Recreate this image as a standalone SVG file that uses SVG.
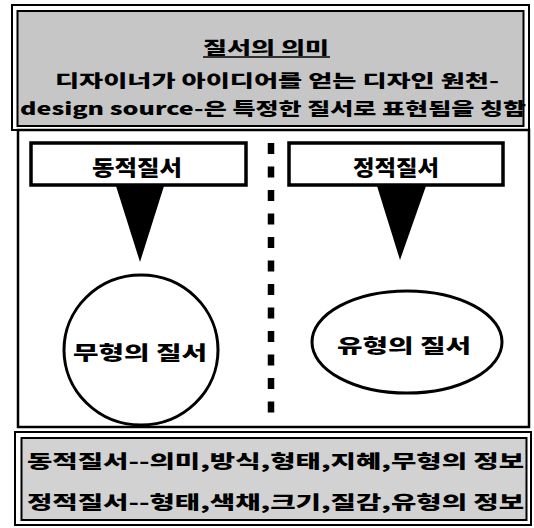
<svg xmlns="http://www.w3.org/2000/svg" width="534" height="528" viewBox="0 0 534 528">
<style>
.t{font-family:"Noto Sans CJK KR","Noto Sans",sans-serif;font-weight:900;fill:#000;}
.ln{fill:none;stroke:#000;}
</style>
<rect width="534" height="528" fill="#fff"/>
<g id="header">
<rect x="12" y="5" width="517" height="125" class="ln" stroke-width="2"/>
<rect x="17.5" y="11" width="506" height="115" fill="#c6c6c6" stroke="#000" stroke-width="2"/>
<text class="t" x="266" y="54" font-size="17" text-anchor="middle" textLength="126" lengthAdjust="spacingAndGlyphs">질서의 의미</text>
<line x1="203" y1="57" x2="330" y2="57" stroke="#000" stroke-width="1.5"/>
<text class="t" x="55" y="87" font-size="17" textLength="444" lengthAdjust="spacingAndGlyphs">디자이너가 아이디어를 얻는 디자인 원천-</text>
<text class="t" x="20" y="115" font-size="17" textLength="506" lengthAdjust="spacingAndGlyphs">design source-은 특정한 질서로 표현됨을 칭함</text>
</g>
<g id="panel">
<rect x="18" y="130" width="511" height="297" class="ln" stroke-width="2.5"/>
</g>
<g id="connectors">
<line x1="271" y1="143" x2="271" y2="415" stroke="#000" stroke-width="6.5" stroke-dasharray="11 12.5"/>
<polygon points="116,186 164,186 140,262" fill="#000"/>
<polygon points="377,186 426,186 400,260" fill="#000"/>
</g>
<g id="dynamic">
<rect x="31" y="143" width="215" height="42" fill="#fff" stroke="#000" stroke-width="3.5"/>
<text class="t" x="137" y="175" font-size="21" text-anchor="middle" textLength="90" lengthAdjust="spacingAndGlyphs">동적질서</text>
</g>
<g id="static">
<rect x="289" y="143" width="214" height="42" fill="#fff" stroke="#000" stroke-width="3.5"/>
<text class="t" x="396" y="175" font-size="21" text-anchor="middle" textLength="86" lengthAdjust="spacingAndGlyphs">정적질서</text>
</g>
<g id="formless">
<ellipse cx="141" cy="350" rx="77" ry="75" class="ln" stroke-width="3"/>
<text class="t" x="140" y="360" font-size="19" text-anchor="middle" textLength="134" lengthAdjust="spacingAndGlyphs">무형의 질서</text>
</g>
<g id="formed">
<ellipse cx="407" cy="342" rx="95" ry="51" class="ln" stroke-width="3"/>
<text class="t" x="404" y="353" font-size="19" text-anchor="middle" textLength="134" lengthAdjust="spacingAndGlyphs">유형의 질서</text>
</g>
<g id="summary">
<rect x="15" y="432" width="516" height="93" class="ln" stroke-width="2"/>
<rect x="21.5" y="438" width="505" height="82" fill="#d2d2d2" stroke="#000" stroke-width="2"/>
<text class="t" x="27" y="468" font-size="18" textLength="497" lengthAdjust="spacingAndGlyphs">동적질서--의미,방식,형태,지혜,무형의 정보</text>
<text class="t" x="27" y="509" font-size="18" textLength="497" lengthAdjust="spacingAndGlyphs">정적질서--형태,색채,크기,질감,유형의 정보</text>
</g>
</svg>
